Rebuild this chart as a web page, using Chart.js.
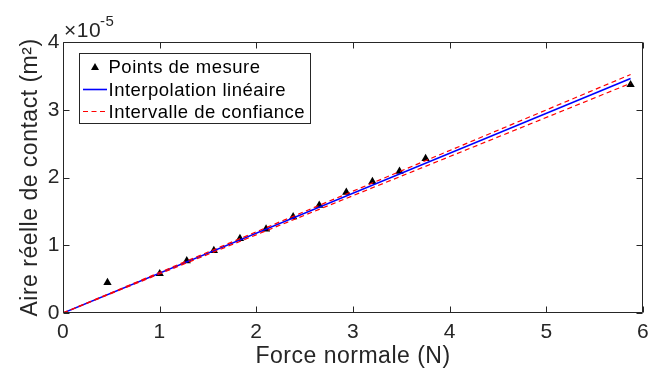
<!DOCTYPE html>
<html>
<head>
<meta charset="utf-8">
<script src="https://cdn.jsdelivr.net/npm/chart.js@4"></script>
<style>
  html, body { margin: 0; padding: 0; background: #fff; }
  canvas { display: block; }
</style>
</head>
<body>
<canvas id="chart" width="656" height="370"></canvas>
<script>
// measured points - area in units of 1e-5 m^2
const forceN = [0.46, 1.00, 1.28, 1.56, 1.83, 2.10, 2.38, 2.65, 2.93, 3.20, 3.48, 3.75, 5.87];
const areaE5 = [0.45, 0.58, 0.77, 0.92, 1.10, 1.24, 1.42, 1.59, 1.78, 1.94, 2.09, 2.28, 3.37];

// linear fit through origin + confidence bounds (end points)
const fitX = [0, 5.87];
const fitY = [0, 3.46];
const ciUpperY = [0, 3.52];
const ciLowerY = [0, 3.39];

const xTicks = [0, 1, 2, 3, 4, 5, 6];
const yTicks = [0, 1, 2, 3, 4];
const legendLabels = ['Points de mesure', 'Interpolation linéaire', 'Intervalle de confiance'];

const axisColor = '#262626';
const FONT = '"Liberation Sans", Arial, Helvetica, sans-serif';

function pairs(xs, ys) { return xs.map((x, i) => ({ x: x, y: ys[i] })); }

// box, inner ticks, legend and exponent label (matlab look)
const matlabAxes = {
  id: 'matlabAxes',
  beforeDraw(chart) {
    chart.ctx.letterSpacing = '0.5px';
  },
  afterDatasetsDraw(chart) {
    const { ctx, chartArea: a, scales: { x, y } } = chart;
    const L = Math.round(a.left) + 0.5, R = Math.round(a.right) - 0.5;
    const T = Math.round(a.top) + 0.5, B = Math.round(a.bottom) - 0.5;
    const tl = 6;
    ctx.save();
    ctx.strokeStyle = axisColor;
    ctx.lineWidth = 1;
    ctx.beginPath();
    ctx.rect(L, T, R - L, B - T);
    xTicks.forEach(v => {
      const px = Math.round(x.getPixelForValue(v)) + 0.5;
      ctx.moveTo(px, B); ctx.lineTo(px, B - tl);
      ctx.moveTo(px, T); ctx.lineTo(px, T + tl);
    });
    yTicks.forEach(v => {
      const py = Math.round(y.getPixelForValue(v)) + 0.5;
      ctx.moveTo(L, py); ctx.lineTo(L + tl, py);
      ctx.moveTo(R, py); ctx.lineTo(R - tl, py);
    });
    ctx.stroke();
    ctx.restore();
  },
  afterDraw(chart) {
    const ctx = chart.ctx;
    const a = chart.chartArea;
    const ds = chart.data.datasets;
    ctx.save();
    ctx.letterSpacing = '0.5px';

    // exponent label
    ctx.fillStyle = axisColor;
    ctx.textBaseline = 'middle';
    ctx.textAlign = 'left';
    ctx.font = '21px ' + FONT;
    ctx.fillText('\u00d710', a.left + 1, 31.5);
    const w = ctx.measureText('\u00d710').width;
    ctx.font = '15px ' + FONT;
    ctx.fillText('-5', a.left + w, 21.5);

    // legend
    const bx = 79.5, by = 53.5, bw = 231, bh = 70;
    ctx.fillStyle = '#fff';
    ctx.fillRect(bx, by, bw, bh);
    ctx.strokeStyle = axisColor;
    ctx.lineWidth = 1;
    ctx.strokeRect(bx, by, bw, bh);

    const rows = [67, 89.5, 111.5];
    const x0 = 83, x1 = 107, tx = 108.5;
    // row 1: marker
    ctx.fillStyle = '#000';
    ctx.beginPath();
    ctx.moveTo(95, rows[0] - 4);
    ctx.lineTo(99, rows[0] + 3);
    ctx.lineTo(91, rows[0] + 3);
    ctx.closePath();
    ctx.fill();
    // row 2: blue line
    ctx.strokeStyle = ds[1].borderColor;
    ctx.lineWidth = ds[1].borderWidth;
    ctx.beginPath(); ctx.moveTo(x0, rows[1]); ctx.lineTo(x1, rows[1]); ctx.stroke();
    // row 3: red dashed
    ctx.strokeStyle = ds[2].borderColor;
    ctx.lineWidth = ds[2].borderWidth;
    ctx.setLineDash(ds[2].borderDash);
    ctx.beginPath(); ctx.moveTo(x0, rows[2]); ctx.lineTo(x1, rows[2]); ctx.stroke();
    ctx.setLineDash([]);

    ctx.fillStyle = '#000';
    ctx.font = '18.5px ' + FONT;
    legendLabels.forEach((t, i) => ctx.fillText(t, tx, rows[i] + 1));
    ctx.restore();
  }
};

const ctx = document.getElementById('chart').getContext('2d');
new Chart(ctx, {
  type: 'scatter',
  data: {
    datasets: [
      {
        label: legendLabels[0],
        data: pairs(forceN, areaE5),
        pointStyle: 'triangle',
        pointRadius: 4.8,
        backgroundColor: '#000',
        borderColor: '#000',
        borderWidth: 0,
        showLine: false,
        order: 3
      },
      {
        label: legendLabels[1],
        data: pairs(fitX, fitY),
        showLine: true,
        borderColor: '#0000ff',
        borderWidth: 1.6,
        pointRadius: 0,
        order: 2
      },
      {
        label: legendLabels[2],
        data: pairs(fitX, ciUpperY),
        showLine: true,
        borderColor: '#ff0000',
        borderWidth: 1.2,
        borderDash: [5, 3.5],
        pointRadius: 0,
        order: 1
      },
      {
        label: legendLabels[2],
        data: pairs(fitX, ciLowerY),
        showLine: true,
        borderColor: '#ff0000',
        borderWidth: 1.2,
        borderDash: [5, 3.5],
        pointRadius: 0,
        order: 1
      }
    ]
  },
  options: {
    responsive: false,
    devicePixelRatio: 1,
    animation: false,
    layout: { padding: { top: 42, right: 7, left: 0, bottom: 0 } },
    plugins: { legend: { display: false }, tooltip: { enabled: false } },
    scales: {
      x: {
        type: 'linear',
        min: 0,
        max: 6,
        afterFit(s) { s.height = 57; },
        afterBuildTicks(s) { s.ticks = xTicks.map(v => ({ value: v })); },
        grid: { display: false, drawTicks: false },
        border: { display: false },
        ticks: { color: axisColor, font: { family: FONT, size: 21 }, padding: 7, maxRotation: 0 },
        title: {
          display: true,
          text: 'Force normale (N)',
          color: axisColor,
          font: { family: FONT, size: 23 },
          padding: { top: 0, bottom: 0 }
        }
      },
      y: {
        type: 'linear',
        min: 0,
        max: 4,
        afterFit(s) { s.width = 63; },
        afterBuildTicks(s) { s.ticks = yTicks.map(v => ({ value: v })); },
        grid: { display: false, drawTicks: false },
        border: { display: false },
        ticks: { color: axisColor, font: { family: FONT, size: 21 }, padding: 3 },
        title: {
          display: true,
          text: 'Aire réelle de contact (m\u00b2)',
          color: axisColor,
          font: { family: FONT, size: 23 },
          padding: { top: 17, bottom: 0 }
        }
      }
    }
  },
  plugins: [matlabAxes]
});
</script>
</body>
</html>
